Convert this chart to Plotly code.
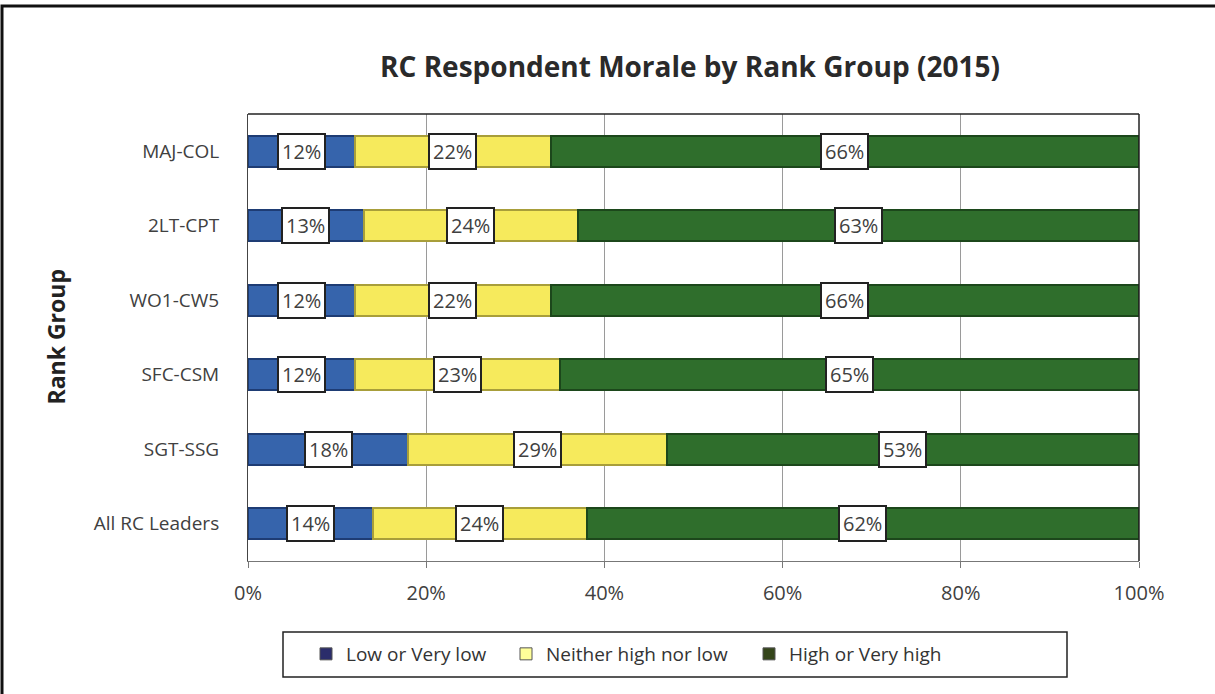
import plotly.graph_objects as go

categories = ["MAJ-COL", "2LT-CPT", "WO1-CW5", "SFC-CSM", "SGT-SSG", "All RC Leaders"]
low = [12, 13, 12, 12, 18, 14]
neither = [22, 24, 22, 23, 29, 24]
high = [66, 63, 66, 65, 53, 62]
series_names = ["Low or Very low", "Neither high nor low", "High or Very high"]
x_ticks = [0, 20, 40, 60, 80, 100]
x_tick_labels = ["0%", "20%", "40%", "60%", "80%", "100%"]

bar_colors = ["#3664AC", "#F6EA5C", "#2F6E2C"]
bar_lines = ["#1E3C74", "#A89E3A", "#1C471B"]
legend_colors = ["#2B2D6B", "#FFFF99", "#34451A"]

FONT = "Open Sans, Lato, sans-serif"
W, H = 1215, 694
ML, MR, MT, MB = 248, 76, 114, 133
PW, PH = W - ML - MR, H - MT - MB


def px_x(px):
    return (px - ML) / PW


def px_y(py):
    return 1 - (py - MT) / PH


fig = go.Figure()
series = [low, neither, high]
for i, vals in enumerate(series):
    fig.add_trace(go.Bar(
        y=categories, x=vals, orientation="h", name=series_names[i],
        marker=dict(color=bar_colors[i], line=dict(color=bar_lines[i], width=2)),
        width=0.42, showlegend=False, hoverinfo="skip"))

legend_names = ["legend", "legend2", "legend3"]
legend_left_px = [306, 506, 749]
for i, nm in enumerate(series_names):
    fig.add_trace(go.Bar(
        y=[None], x=[None], orientation="h", name=nm, legend=legend_names[i],
        marker=dict(color=legend_colors[i], line=dict(color="#555555", width=1))))

annotations = []
for j, cat in enumerate(categories):
    start = 0
    for vals in series:
        v = vals[j]
        annotations.append(dict(
            x=start + v / 2, y=cat, xref="x", yref="y", text=f"{v}%",
            showarrow=False, font=dict(family=FONT, size=20, color="#404040"),
            bgcolor="white", bordercolor="#222222", borderwidth=2, borderpad=3))
        start += v

annotations.append(dict(
    x=px_x(55), y=0.5, xref="paper", yref="paper", text="<b>Rank Group</b>",
    textangle=-90, showarrow=False, xanchor="center", yanchor="middle",
    font=dict(family=FONT, size=23, color="#222222")))

legend_common = dict(orientation="h", xanchor="left", y=px_y(654), yanchor="middle",
                     borderwidth=0, bgcolor="rgba(0,0,0,0)",
                     font=dict(family=FONT, size=19, color="#333333"))

fig.update_layout(
    width=W, height=H, barmode="stack",
    margin=dict(l=ML, r=MR, t=MT, b=MB, autoexpand=False),
    paper_bgcolor="white", plot_bgcolor="white",
    font=dict(family=FONT, size=18, color="#404040"),
    title=dict(text="<b>RC Respondent Morale by Rank Group (2015)</b>",
               x=690 / W, xanchor="center", y=1 - 67 / H, yanchor="middle",
               font=dict(family=FONT, size=28, color="#2a2a2a")),
    bargap=0.58,
    xaxis=dict(range=[0, 100], tickvals=x_ticks, ticktext=x_tick_labels,
               tickfont=dict(size=20),
               showgrid=True, gridcolor="#9a9a9a", gridwidth=1,
               showline=True, linecolor="#777777", linewidth=1, mirror=False,
               ticks="outside", ticklen=6, tickcolor="#777777",
               ticklabelstandoff=8, zeroline=False, fixedrange=True),
    yaxis=dict(categoryorder="array", categoryarray=categories[::-1],
               tickfont=dict(size=19),
               showgrid=False, showline=True, linecolor="#444444", linewidth=1,
               ticks="", ticklabelstandoff=24, fixedrange=True),
    legend=dict(x=px_x(legend_left_px[0]), **legend_common),
    legend2=dict(x=px_x(legend_left_px[1]), **legend_common),
    legend3=dict(x=px_x(legend_left_px[2]), **legend_common),
    annotations=annotations,
    shapes=[
        dict(type="line", xref="paper", yref="paper", x0=0, x1=1, y0=1, y1=1,
             line=dict(color="#222222", width=1.5)),
        dict(type="line", xref="paper", yref="paper", x0=1, x1=1, y0=0, y1=1,
             line=dict(color="#222222", width=1.5)),
        # legend box
        dict(type="rect", xref="paper", yref="paper",
             x0=px_x(283), x1=px_x(1067), y0=px_y(677), y1=px_y(632),
             line=dict(color="#222222", width=1.5), layer="below"),
        # outer image frame
        dict(type="rect", xref="paper", yref="paper",
             x0=px_x(2), x1=px_x(W + 10), y0=px_y(H + 10), y1=px_y(6),
             line=dict(color="#111111", width=3), layer="below"),
    ],
)

fig.write_html("out.html", config={"displayModeBar": False},
               post_script="document.body.style.margin='0';document.body.style.padding='0';")
